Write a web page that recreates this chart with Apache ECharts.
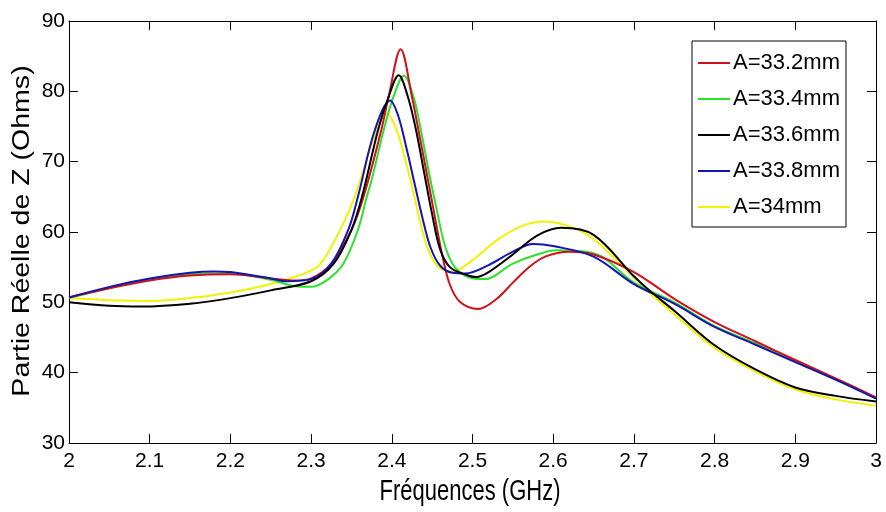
<!DOCTYPE html>
<html>
<head>
<meta charset="utf-8">
<script src="https://cdn.jsdelivr.net/npm/echarts@6/dist/echarts.min.js"></script>
<style>
html,body{margin:0;padding:0;background:#fff;}
#c{width:886px;height:512px;}
</style>
</head>
<body>
<div id="c"></div>
<script>
// Tick labels
const xTicks = [2, 2.1, 2.2, 2.3, 2.4, 2.5, 2.6, 2.7, 2.8, 2.9, 3];
const yTicks = [30, 40, 50, 60, 70, 80, 90];

// Titles
const xTitle = 'Fréquences (GHz)';
const yTitle = 'Partie Réelle de Z (Ohms)';

// Series names
const seriesNames = ['A=33.2mm', 'A=33.4mm', 'A=33.6mm', 'A=33.8mm', 'A=34mm'];

// A=33.2mm (red)
const redX = [2.00,2.05,2.10,2.15,2.20,2.25,2.28,2.30,2.325,2.35,2.365,2.387,2.396,2.411,2.425,2.433,2.443,2.452,2.462,2.472,2.485,2.507,2.53,2.55,2.57,2.59,2.62,2.65,2.70,2.75,2.80,2.85,2.90,2.95,3.00];
const redY = [50.7,52.0,53.1,53.8,54.0,53.4,53.1,53.4,55.5,60.3,65.0,74.5,79.2,86.0,79.2,74.5,68.5,63.0,57.0,52.5,50.0,49.05,50.5,52.8,55.0,56.5,57.2,56.8,54.3,50.5,47.2,44.5,41.8,39.2,36.5];

// A=33.4mm (green)
const greenX = [2.00,2.05,2.10,2.15,2.20,2.25,2.28,2.30,2.32,2.34,2.358,2.369,2.375,2.39,2.402,2.415,2.427,2.436,2.446,2.456,2.466,2.478,2.495,2.515,2.55,2.58,2.604,2.65,2.70,2.75,2.80,2.85,2.90,2.95,3.00];
const greenY = [50.6,52.0,53.2,54.0,54.1,53.2,52.3,52.2,53.2,55.5,60.3,65.0,67.4,74.5,79.2,82.2,79.2,74.5,68.5,63.0,58.0,55.0,53.6,53.3,55.5,56.8,57.4,57.0,52.8,50.0,46.6,44.2,41.6,39.0,36.4];

// A=33.6mm (black)
const blackX = [2.00,2.05,2.09,2.15,2.20,2.25,2.30,2.328,2.35,2.363,2.383,2.396,2.4085,2.420,2.430,2.440,2.450,2.460,2.472,2.49,2.505,2.52,2.55,2.58,2.61,2.65,2.70,2.72,2.75,2.80,2.85,2.90,2.95,3.00];
const blackY = [50.0,49.5,49.4,49.8,50.6,51.7,53.0,55.5,60.3,65.0,74.5,79.2,82.3,79.2,74.5,68.5,62.5,57.5,55.0,54.0,53.6,54.3,56.8,59.5,60.6,59.6,53.7,51.6,48.8,43.9,40.5,37.9,36.7,35.9];

// A=33.8mm (blue)
const blueX = [2.00,2.05,2.10,2.15,2.18,2.20,2.25,2.27,2.30,2.325,2.346,2.358,2.379,2.398,2.408,2.418,2.428,2.438,2.448,2.46,2.475,2.491,2.52,2.55,2.575,2.60,2.65,2.70,2.75,2.80,2.85,2.90,2.95,3.00];
const blueY = [50.7,52.2,53.4,54.2,54.4,54.3,53.4,53.0,53.3,55.5,60.3,65.0,74.5,78.7,76.5,72.0,67.0,62.0,57.8,55.2,54.2,54.1,55.3,57.2,58.3,58.0,56.5,52.6,49.8,46.5,44.0,41.5,39.0,36.3];

// A=34mm (yellow)
const yellowX = [2.00,2.05,2.10,2.15,2.20,2.25,2.30,2.315,2.336,2.354,2.381,2.394,2.406,2.415,2.425,2.435,2.445,2.458,2.476,2.50,2.53,2.56,2.588,2.62,2.65,2.70,2.72,2.75,2.80,2.85,2.90,2.95,3.00];
const yellowY = [50.6,50.3,50.2,50.6,51.4,52.6,54.5,56.0,60.3,65.0,74.5,76.8,74.5,71.0,66.5,61.5,57.5,55.0,54.4,56.0,58.8,60.8,61.5,60.8,59.0,53.5,51.3,48.3,43.5,40.2,37.6,36.2,35.3];

const colors = {
  'A=33.2mm': '#d0101a',
  'A=33.4mm': '#2ee02e',
  'A=33.6mm': '#000000',
  'A=33.8mm': '#1414b4',
  'A=34mm': '#f2f200'
};

function pairs(xs, ys){ return xs.map((x,i)=>[x, ys[i]]); }

const seriesData = {
  'A=33.2mm': pairs(redX, redY),
  'A=33.4mm': pairs(greenX, greenY),
  'A=33.6mm': pairs(blackX, blackY),
  'A=33.8mm': pairs(blueX, blueY),
  'A=34mm': pairs(yellowX, yellowY)
};

// drawing order (bottom to top)
const drawOrder = ['A=34mm', 'A=33.4mm', 'A=33.2mm', 'A=33.8mm', 'A=33.6mm'];

const FONT = 'Liberation Sans, Arial, sans-serif';

const chart = echarts.init(document.getElementById('c'), null, {renderer: 'canvas'});

const baseX = {
  type: 'value', min: 2, max: 3, interval: 0.1,
  axisLine: {show: true, onZero: false, lineStyle: {color: '#000', width: 1}},
  axisTick: {show: true, inside: true, length: 9, lineStyle: {color: '#000'}},
  splitLine: {show: false}
};
const baseY = {
  type: 'value', min: 30, max: 90, interval: 10,
  axisLine: {show: true, onZero: false, lineStyle: {color: '#000', width: 1}},
  axisTick: {show: true, inside: true, length: 9, lineStyle: {color: '#000'}},
  splitLine: {show: false}
};

const option = {
  backgroundColor: '#fff',
  animation: false,
  grid: {left: 69, right: 10, top: 21, bottom: 69, containLabel: false, outerBoundsMode: 'none'},
  xAxis: [
    Object.assign({}, baseX, {
      position: 'bottom',
      axisLabel: {
        fontSize: 21, fontFamily: FONT, color: '#000', margin: 8,
        formatter: v => { const r = Math.round(v*10)/10; return xTicks.includes(r) ? String(r) : ''; }
      }
    }),
    Object.assign({}, baseX, {position: 'top', axisLabel: {show: false}})
  ],
  yAxis: [
    Object.assign({}, baseY, {
      position: 'left',
      axisLabel: {
        fontSize: 21, fontFamily: FONT, color: '#000', margin: 4,
        formatter: v => yTicks.includes(v) ? String(v) : ''
      }
    }),
    Object.assign({}, baseY, {position: 'right', axisLabel: {show: false}})
  ],
  graphic: [
    {
      type: 'text', x: 470, y: 492, scaleY: 1.38,
      style: {text: xTitle, fontSize: 22, fontFamily: FONT, fill: '#000', align: 'center', verticalAlign: 'middle'}
    },
    {
      type: 'text', x: 23, y: 231, rotation: Math.PI/2, scaleX: 1.24,
      style: {text: yTitle, fontSize: 23, fontFamily: FONT, fill: '#000', align: 'center', verticalAlign: 'middle'}
    }
  ],
  legend: {
    data: seriesNames,
    orient: 'vertical',
    left: 692, top: 41,
    backgroundColor: '#fff',
    borderColor: '#000', borderWidth: 1, borderRadius: 0,
    padding: [10, 6, 8, 6],
    itemGap: 12,
    itemWidth: 32, itemHeight: 2,
    icon: 'rect',
    textStyle: {fontSize: 22, fontFamily: FONT, color: '#000', lineHeight: 24, padding: [0,0,0,-2]}
  },
  series: drawOrder.map(name => ({
    name: name,
    type: 'line',
    xAxisIndex: 0, yAxisIndex: 0,
    data: seriesData[name],
    smooth: 0.35,
    showSymbol: false,
    symbol: 'none',
    color: colors[name],
    lineStyle: {color: colors[name], width: 2},
    clip: true
  }))
};

chart.setOption(option);
</script>
</body>
</html>
